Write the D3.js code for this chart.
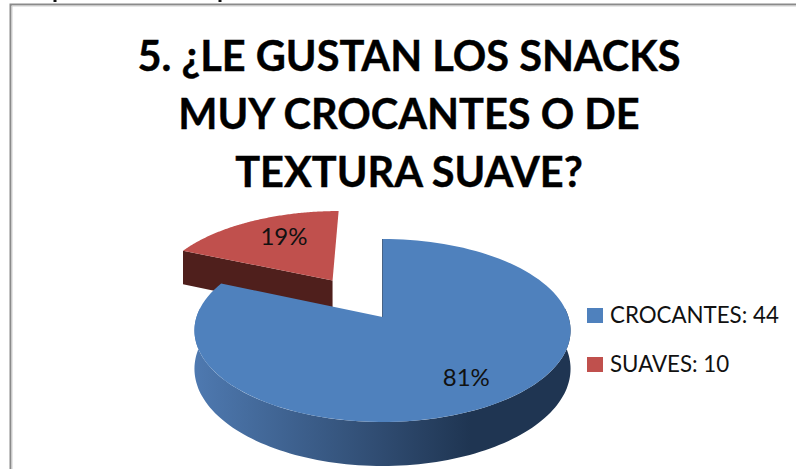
<!DOCTYPE html>
<html lang="es">
<head>
<meta charset="utf-8">
<title>Snacks</title>
<script src="https://cdnjs.cloudflare.com/ajax/libs/d3/7.8.5/d3.min.js"></script>
<style>
html,body{margin:0;padding:0;background:#fff}
svg{display:block}
text{font-family:Lato,"Open Sans",sans-serif}
</style>
</head>
<body>
<svg id="chart" width="796" height="469"></svg>
<script>
// Survey answers
const categories = ["CROCANTES", "SUAVES"];
const counts = [44, 10];
const titleLines = ["5. ¿LE GUSTAN LOS SNACKS", "MUY CROCANTES O DE", "TEXTURA SUAVE?"];
const topColors = ["#4f81bd", "#c0504d"];

const svg = d3.select("#chart");

// Tilted-disk projection: u runs left to right, v runs back (-1) to front (+1)
const cx = 382.5, cy = 317, rx = 186, ry = 89.5, persp = 0.1475, depth = 37.5;
const project = (u, v, drop = 0) => {
  const s = 1 / (1 - persp * v);
  return [cx + rx * u * s, cy + ry * v * s + drop * depth * s];
};

const pie = d3.pie().sort(null).value(d => d)(counts);
const explode = [0, 0.52];

const centerOf = i => {
  const mid = (pie[i].startAngle + pie[i].endAngle) / 2;
  return [explode[i] * Math.sin(mid), -explode[i] * Math.cos(mid)];
};
const rimPoint = (i, a, f = 1) => {
  const [u0, v0] = centerOf(i);
  return [u0 + f * Math.sin(a), v0 - f * Math.cos(a)];
};
const line = d3.line();

function topFace(i) {
  const {startAngle: a0, endAngle: a1} = pie[i];
  const pts = [project(...centerOf(i))];
  d3.range(0, 1.0001, 1 / 120).forEach(t => {
    pts.push(project(...rimPoint(i, a0 + (a1 - a0) * t)));
  });
  return line(pts) + "Z";
}

// Outer wall between two angles, extruded downward
function rimWall(i, a0, a1) {
  const ts = d3.range(0, 1.0001, 1 / 120).map(t => a0 + (a1 - a0) * t);
  const upper = ts.map(a => project(...rimPoint(i, a)));
  const lower = ts.slice().reverse().map(a => project(...rimPoint(i, a), 1));
  return line(upper.concat(lower)) + "Z";
}

// Flat cut wall running from the slice centre to the rim
function cutWall(i, a) {
  const c = centerOf(i), r = rimPoint(i, a);
  return line([project(...c), project(...r), project(...r, 1), project(...c, 1)]) + "Z";
}

// Chart frame, running off the right and bottom of the page
svg.append("path")
  .attr("d", "M10.5,469V4.5H796")
  .attr("fill", "none").attr("stroke", "#8a8a8a").attr("stroke-width", 2);
svg.append("path")
  .attr("d", "M12,469V6H796")
  .attr("fill", "none").attr("stroke", "#cfcfcf").attr("stroke-width", 1);

// Tails of the heading line above the frame
svg.append("g").attr("stroke", "#111").attr("stroke-width", 3)
  .selectAll("line").data([55, 220]).join("line")
  .attr("x1", d => d).attr("x2", d => d).attr("y1", 0).attr("y2", 2);

// Title
svg.append("g").attr("text-anchor", "middle")
  .selectAll("text").data(titleLines).join("text")
  .attr("x", 409)
  .attr("y", (d, i) => 71 + i * 58)
  .attr("font-size", 41.5).attr("font-weight", 700).attr("fill", "#000")
  .attr("stroke", "#000").attr("stroke-width", 0.4)
  .text(d => d);

// Side gradient of the large slice
const defs = svg.append("defs");
const grad = defs.append("linearGradient").attr("id", "wallBlue")
  .attr("gradientUnits", "userSpaceOnUse")
  .attr("x1", 195).attr("x2", 572).attr("y1", 0).attr("y2", 0);
[[0, "#4e79b0"], [0.5, "#2f4b70"], [0.73, "#1f3552"], [1, "#1f3552"]]
  .forEach(([o, c]) => grad.append("stop").attr("offset", o).attr("stop-color", c));

// Small slice first, since the large one overlaps it
svg.append("path").attr("d", cutWall(1, pie[1].startAngle)).attr("fill", "#4f1f1c");
svg.append("path").attr("d", topFace(1)).attr("fill", topColors[1]);

// Large slice: front wall, then the top face
svg.append("path")
  .attr("d", rimWall(0, Math.PI / 2 - 0.1, Math.min(pie[0].endAngle, Math.PI * 1.5 + 0.1)))
  .attr("fill", "url(#wallBlue)");
svg.append("path").attr("d", topFace(0)).attr("fill", topColors[0]);
svg.append("path")
  .attr("d", line([project(0, 0), project(...rimPoint(0, 0))]))
  .attr("stroke", "#2f4b70").attr("stroke-width", 0.8).attr("fill", "none");

// Percentage labels
const total = d3.sum(counts);
const labelReach = [0.72, 0.6];
const labelDx = [3, 2];
const labelDy = [2, -6];
svg.append("g").attr("text-anchor", "middle")
  .selectAll("text").data(pie).join("text")
  .attr("transform", (d, i) => {
    const mid = (d.startAngle + d.endAngle) / 2;
    const [x, y] = project(...rimPoint(i, mid, labelReach[i]));
    return `translate(${x + labelDx[i]},${y + labelDy[i] + 8})`;
  })
  .attr("font-size", 24).attr("fill", "#111")
  .text(d => d3.format(".0%")(d.value / total));

// Legend
const legendY = d3.scalePoint().domain(categories).range([323, 372]);
const legend = svg.append("g").selectAll("g").data(categories).join("g")
  .attr("transform", d => `translate(587,${legendY(d)})`);
legend.append("rect").attr("x", 0).attr("y", -15).attr("width", 16).attr("height", 15)
  .attr("fill", (d, i) => topColors[i]);
legend.append("text").attr("x", 23).attr("y", 0)
  .attr("font-size", 22.3).attr("fill", "#111")
  .text((d, i) => `${d}: ${counts[i]}`);
</script>
</body>
</html>
